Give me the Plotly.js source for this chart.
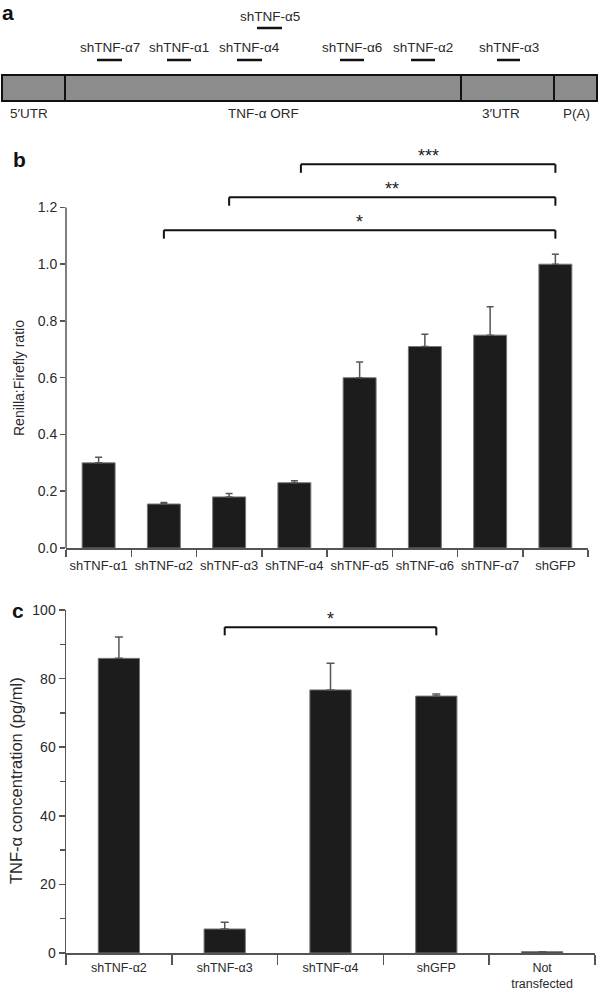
<!DOCTYPE html>
<html><head><meta charset="utf-8">
<script src="https://cdn.plot.ly/plotly-3.0.1.min.js"></script>
<style>html,body{margin:0;padding:0;background:#fff}#chart{width:600px;height:997px}</style>
</head><body><div id="chart"></div>
<script>
// ---- Panel a: gene map (positions along the map scale) ----
const regionNames = ["5′UTR", "TNF-α ORF", "3′UTR", "P(A)"];
const regionStart = [2, 65, 461, 554];
const regionEnd = [65, 461, 554, 597];
const regionLabelX = [29, 263, 501, 576];
const shNames = ["shTNF-α7", "shTNF-α1", "shTNF-α4", "shTNF-α5", "shTNF-α6", "shTNF-α2", "shTNF-α3"];
const shStart = [97, 167, 237, 257, 340, 411, 497];
const shEnd = [122, 191, 262, 282, 364, 435, 520];
const shRow = [1, 1, 1, 2, 1, 1, 1];

// ---- Panel b: Renilla:Firefly ratio ----
const catsB = ["shTNF-α1", "shTNF-α2", "shTNF-α3", "shTNF-α4", "shTNF-α5", "shTNF-α6", "shTNF-α7", "shGFP"];
const ratioB = [0.30, 0.155, 0.18, 0.23, 0.60, 0.71, 0.75, 1.00];
const errB = [0.02, 0.005, 0.012, 0.007, 0.055, 0.043, 0.10, 0.035];
const sigFromB = [1, 2, 3.1];
const sigToB = [7, 7, 7];
const sigYB = [1.12, 1.236, 1.352];
const sigLabelB = ["*", "**", "***"];
const yTicksB = [0, 0.2, 0.4, 0.6, 0.8, 1.0, 1.2];

// ---- Panel c: TNF-α concentration ----
const catsC = ["shTNF-α2", "shTNF-α3", "shTNF-α4", "shGFP", "Not<br>transfected"];
const concC = [85.9, 7.0, 76.7, 74.9, 0.4];
const errC = [6.2, 2.0, 7.8, 0.6, 0];
const sigFromC = [1];
const sigToC = [3];
const sigYC = [95];
const sigLabelC = ["*"];

const FONT = "Liberation Sans, Arial, Helvetica, sans-serif";
const TXT = "#2a2a2a";
const AX = "#555";
const H = 997, W = 600;
const py = p => 1 - p / H;

const traces = [
  {
    type: "bar", x: catsB, y: ratioB, xaxis: "x", yaxis: "y", width: 0.505,
    marker: {color: "#1c1c1c", line: {color: "#777", width: 1}},
    error_y: {type: "data", symmetric: false, array: errB, arrayminus: errB.map(() => 0),
      color: AX, thickness: 1.5, width: 3.5},
    hoverinfo: "skip"
  },
  {
    type: "bar", x: catsC, y: concC, xaxis: "x2", yaxis: "y2", width: 0.39,
    marker: {color: "#1c1c1c", line: {color: "#777", width: 1}},
    error_y: {type: "data", symmetric: false, array: errC, arrayminus: errC.map(() => 0),
      color: AX, thickness: 1.5, width: 4},
    hoverinfo: "skip"
  },
  {
    type: "scatter", mode: "markers", x: [], y: [], xaxis: "x3", yaxis: "y3", hoverinfo: "skip"
  }
];

const shapes = [];
const annotations = [];

// Panel a shapes
regionNames.forEach((n, i) => {
  shapes.push({type: "rect", xref: "x3", yref: "y3", x0: regionStart[i], x1: regionEnd[i], y0: 75, y1: 101,
    fillcolor: "#8c8c8c", line: {color: "#111", width: 2}});
  annotations.push({xref: "x3", yref: "y3", x: regionLabelX[i], y: 113, text: n,
    showarrow: false, font: {family: FONT, size: 13.5, color: TXT}, xanchor: "center", yanchor: "middle"});
});
const rowLineY = {1: 60, 2: 28};
const rowTextY = {1: 47, 2: 16};
shNames.forEach((n, i) => {
  shapes.push({type: "line", xref: "x3", yref: "y3", x0: shStart[i], x1: shEnd[i],
    y0: rowLineY[shRow[i]], y1: rowLineY[shRow[i]], line: {color: "#111", width: 2.5}});
  annotations.push({xref: "x3", yref: "y3", x: (shStart[i] + shEnd[i]) / 2, y: rowTextY[shRow[i]], text: n,
    showarrow: false, font: {family: FONT, size: 13.5, color: TXT}, xanchor: "center", yanchor: "middle"});
});

// Panel b y axis line (only up to 1.2)
shapes.push({type: "line", xref: "x domain", yref: "y", x0: 0, x1: 0, y0: 0, y1: 1.2, line: {color: AX, width: 1.5}});

function brackets(xr, yr, from, to, ys, labels, drop) {
  from.forEach((f, i) => {
    const t = to[i], y = ys[i];
    const ln = {color: "#111", width: 2};
    shapes.push({type: "line", xref: xr, yref: yr, x0: f, x1: t, y0: y, y1: y, line: ln});
    shapes.push({type: "line", xref: xr, yref: yr, x0: f, x1: f, y0: y, y1: y - drop, line: ln});
    shapes.push({type: "line", xref: xr, yref: yr, x0: t, x1: t, y0: y, y1: y - drop, line: ln});
    annotations.push({xref: xr, yref: yr, x: (f + t) / 2, y: y, text: labels[i], showarrow: false,
      yanchor: "bottom", yshift: -4, font: {family: FONT, size: 18, color: "#222"}});
  });
}
brackets("x", "y", sigFromB, sigToB, sigYB, sigLabelB, 0.03);
brackets("x2", "y2", sigFromC, sigToC, sigYC, sigLabelC, 2.4);

// Panel letters
annotations.push({xref: "paper", yref: "paper", x: 8 / W, y: py(12), text: "<b>a</b>", showarrow: false,
  xanchor: "center", yanchor: "middle", font: {family: FONT, size: 21, color: "#111"}});
annotations.push({xref: "paper", yref: "paper", x: 19 / W, y: py(159), text: "<b>b</b>", showarrow: false,
  xanchor: "center", yanchor: "middle", font: {family: FONT, size: 21, color: "#111"}});
annotations.push({xref: "paper", yref: "paper", x: 18 / W, y: py(610), text: "<b>c</b>", showarrow: false,
  xanchor: "center", yanchor: "middle", font: {family: FONT, size: 21, color: "#111"}});

// Axis titles
annotations.push({xref: "paper", yref: "paper", x: 19 / W, y: py(378), text: "Renilla:Firefly ratio", textangle: -90,
  showarrow: false, xanchor: "center", yanchor: "middle", font: {family: FONT, size: 14, color: TXT}});
annotations.push({xref: "paper", yref: "paper", x: 16 / W, y: py(781), text: "TNF-α concentration (pg/ml)", textangle: -90,
  showarrow: false, xanchor: "center", yanchor: "middle", font: {family: FONT, size: 16.5, color: TXT}});

const layout = {
  width: W, height: H, margin: {l: 0, r: 0, t: 0, b: 0},
  paper_bgcolor: "#fff", plot_bgcolor: "rgba(0,0,0,0)", showlegend: false,
  font: {family: FONT, color: TXT},
  xaxis: {domain: [66 / W, 588 / W], anchor: "y", type: "category", range: [-0.5, 7.5],
    showline: true, linecolor: AX, linewidth: 1.5, ticks: "outside", tickson: "boundaries",
    ticklen: 7, tickwidth: 1.5, tickcolor: AX, showgrid: false, zeroline: false, tickangle: 0,
    ticklabelstandoff: 5,
    tickfont: {family: FONT, size: 13, color: TXT}, fixedrange: true},
  yaxis: {domain: [py(548), py(145)], anchor: "x", range: [0, 1.42], tickvals: yTicksB,
    ticktext: yTicksB.map(v => v.toFixed(1)), ticks: "outside", ticklen: 5, tickwidth: 1.5, tickcolor: AX,
    showline: false, showgrid: false, zeroline: false,
    tickfont: {family: FONT, size: 14, color: TXT}, fixedrange: true},
  xaxis2: {domain: [66 / W, 595 / W], anchor: "y2", type: "category", range: [-0.5, 4.5],
    showline: true, linecolor: AX, linewidth: 1.5, ticks: "outside", tickson: "boundaries",
    ticklen: 10, tickwidth: 1.5, tickcolor: AX, showgrid: false, zeroline: false, tickangle: 0,
    ticklabelstandoff: 2,
    tickfont: {family: FONT, size: 12.5, color: TXT}, fixedrange: true},
  yaxis2: {domain: [py(953), py(610)], anchor: "x2", range: [0, 100], tickvals: [0, 20, 40, 60, 80, 100],
    ticks: "outside", ticklen: 6, tickwidth: 1.5, tickcolor: AX,
    minor: {tickvals: [10, 30, 50, 70, 90], ticks: "outside", ticklen: 5, tickwidth: 1.5, tickcolor: AX, showgrid: false},
    showline: true, linecolor: AX, linewidth: 1.5, showgrid: false, zeroline: false,
    tickfont: {family: FONT, size: 14, color: TXT}, fixedrange: true},
  xaxis3: {domain: [0, 1], anchor: "y3", range: [0, 600], visible: false, fixedrange: true},
  yaxis3: {domain: [py(130), 1], anchor: "x3", range: [130, 0], visible: false, fixedrange: true},
  shapes: shapes,
  annotations: annotations
};

Plotly.newPlot("chart", traces, layout, {staticPlot: true, displayModeBar: false});
</script></body></html>
